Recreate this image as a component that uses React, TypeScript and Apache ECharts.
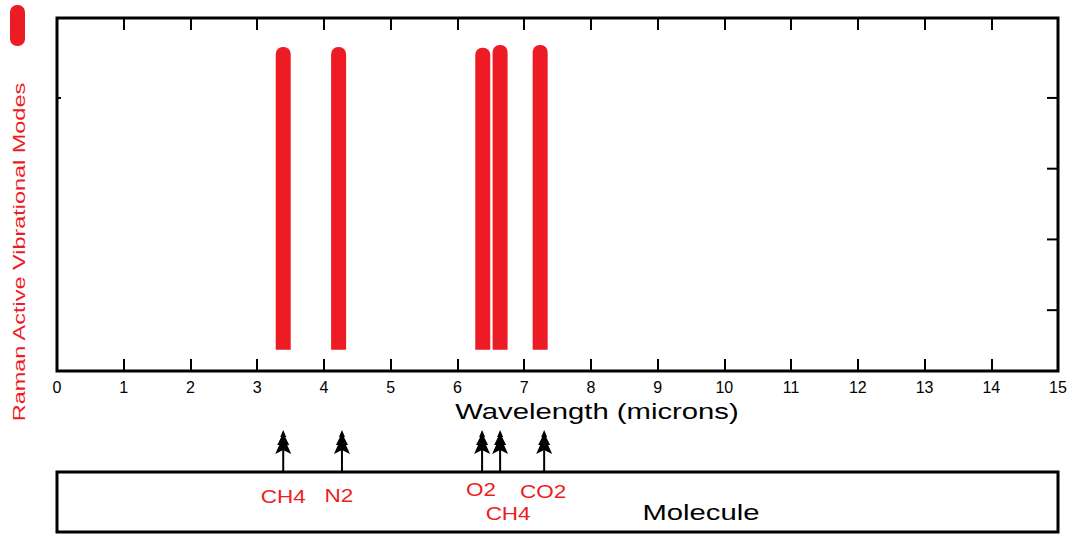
import React, { useEffect, useRef } from "react";
import * as echarts from "echarts";

// ---- data ----
const xMin = 0;
const xMax = 15;
const yMin = 0.14;
const yMax = 5.13;
const rightTickValues = [1, 2, 3, 4];
const leftTickValues = [4];
const modeWavelengths = [3.39, 4.22, 6.38, 6.64, 7.24];
const modeBase = [0.44, 0.44, 0.44, 0.44, 0.44];
const modeTop = [4.72, 4.72, 4.71, 4.75, 4.75];
const molecules = ["CH4", "N2", "O2", "CH4", "CO2"];
const moleculeWavelengths = [3.39, 4.27, 6.37, 6.64, 7.3];
const arrowTipValue = 1.7;

// ---- style ----
const RED = "#ed1c24";
const FONT = "'Liberation Sans', Arial, sans-serif";
const labelDx = [0, -3, -1, 8, -1];
const labelDy = [25, 24, 18, 42, 20];
const arrowHead = [
  [0, 0], [3, 7], [2, 7], [6, 15], [4, 15], [8, 24], [0, 20],
  [-8, 24], [-4, 15], [-6, 15], [-2, 7], [-3, 7],
];

export default function App() {
  const ref = useRef<HTMLDivElement>(null);
  useEffect(() => {
    if (!ref.current) return;
    const chart = echarts.init(ref.current, null, { renderer: "svg" });
    const tickSeries = (name: string, values: number[], atX: number, len: number) => ({
      type: "custom",
      name,
      xAxisIndex: 0,
      yAxisIndex: 0,
      clip: false,
      silent: true,
      data: values.map((v) => [atX, v]),
      encode: { x: 0, y: 1 },
      renderItem: (params: any, api: any) => {
        const p = api.coord([api.value(0), api.value(1)]);
        return {
          type: "line",
          shape: { x1: p[0], y1: p[1], x2: p[0] + len, y2: p[1] },
          style: { stroke: "#000", lineWidth: 2 },
        };
      },
    });
    const option: any = {
      animation: false,
      backgroundColor: "#fff",
      grid: [
        { left: 57, right: 12, top: 18, bottom: 164, show: true, borderColor: "#000", borderWidth: 3, backgroundColor: "transparent" },
        { left: 57, right: 12, top: 472, bottom: 3, show: true, borderColor: "#000", borderWidth: 3, backgroundColor: "transparent" },
      ],
      xAxis: [
        {
          gridIndex: 0, type: "value", min: xMin, max: xMax, interval: 1, position: "bottom",
          axisLine: { show: false },
          axisTick: { show: true, inside: true, length: 12, lineStyle: { color: "#000", width: 2 } },
          axisLabel: { show: true, color: "#000", fontSize: 16, margin: 8, fontFamily: FONT },
          splitLine: { show: false },
        },
        {
          gridIndex: 0, type: "value", min: xMin, max: xMax, interval: 1, position: "top",
          axisLine: { show: false },
          axisTick: { show: true, inside: true, length: 12, lineStyle: { color: "#000", width: 2 } },
          axisLabel: { show: false },
          splitLine: { show: false },
        },
        { gridIndex: 1, type: "value", min: xMin, max: xMax, show: false },
      ],
      yAxis: [
        { gridIndex: 0, type: "value", min: yMin, max: yMax, show: false },
        { gridIndex: 1, type: "value", min: 0, max: 1, show: false },
      ],
      series: [
        {
          type: "custom",
          name: "Raman Active Vibrational Modes",
          xAxisIndex: 0,
          yAxisIndex: 0,
          clip: false,
          data: modeWavelengths.map((w, i) => [w, modeBase[i], modeTop[i]]),
          encode: { x: 0, y: [1, 2] },
          renderItem: (params: any, api: any) => {
            const x = api.value(0);
            const pTop = api.coord([x, api.value(2)]);
            const pBase = api.coord([x, api.value(1)]);
            return {
              type: "rect",
              shape: { x: pTop[0] - 7.5, y: pTop[1], width: 15, height: pBase[1] - pTop[1], r: [7, 7, 0, 0] },
              style: { fill: RED },
            };
          },
        },
        tickSeries("rightTicks", rightTickValues, xMax, -11),
        tickSeries("leftTicks", leftTickValues, xMin, 4),
        {
          type: "custom",
          name: "Molecule",
          xAxisIndex: 2,
          yAxisIndex: 1,
          clip: false,
          data: moleculeWavelengths.map((w) => [w, 1]),
          encode: { x: 0, y: 1 },
          renderItem: (params: any, api: any) => {
            const i = params.dataIndex;
            const x = api.value(0);
            const base = api.coord([x, api.value(1)]);
            const tip = api.coord([x, arrowTipValue]);
            return {
              type: "group",
              children: [
                {
                  type: "line",
                  shape: { x1: base[0], y1: base[1], x2: tip[0], y2: tip[1] + 18 },
                  style: { stroke: "#000", lineWidth: 2 },
                },
                {
                  type: "polygon",
                  shape: { points: arrowHead.map((p) => [tip[0] + p[0], tip[1] + p[1]]) },
                  style: { fill: "#000" },
                },
                {
                  type: "text",
                  x: base[0] + labelDx[i],
                  y: base[1] + labelDy[i],
                  scaleX: 1.25,
                  style: {
                    text: molecules[i], fill: RED, fontSize: 18, fontFamily: FONT,
                    align: "center", verticalAlign: "middle",
                  },
                },
              ],
            };
          },
        },
      ],
      graphic: [
        { type: "rect", left: 10, top: 5, shape: { width: 15, height: 41, r: 7 }, style: { fill: RED } },
        {
          type: "text", x: 19, y: 252, rotation: Math.PI / 2, scaleX: 1.38,
          style: { text: "Raman Active Vibrational Modes", fill: RED, fontSize: 17, fontFamily: FONT, align: "center", verticalAlign: "middle" },
        },
        {
          type: "text", x: 597, y: 411, scaleX: 1.33,
          style: { text: "Wavelength (microns)", fill: "#000", fontSize: 22, fontFamily: FONT, align: "center", verticalAlign: "middle" },
        },
        {
          type: "text", x: 701, y: 512, scaleX: 1.33,
          style: { text: "Molecule", fill: "#000", fontSize: 22, fontFamily: FONT, align: "center", verticalAlign: "middle" },
        },
      ],
    };
    chart.setOption(option);
    return () => chart.dispose();
  }, []);
  return <div ref={ref} style={{ position: "absolute", left: 0, top: 0, width: 1070, height: 535 }} />;
}
